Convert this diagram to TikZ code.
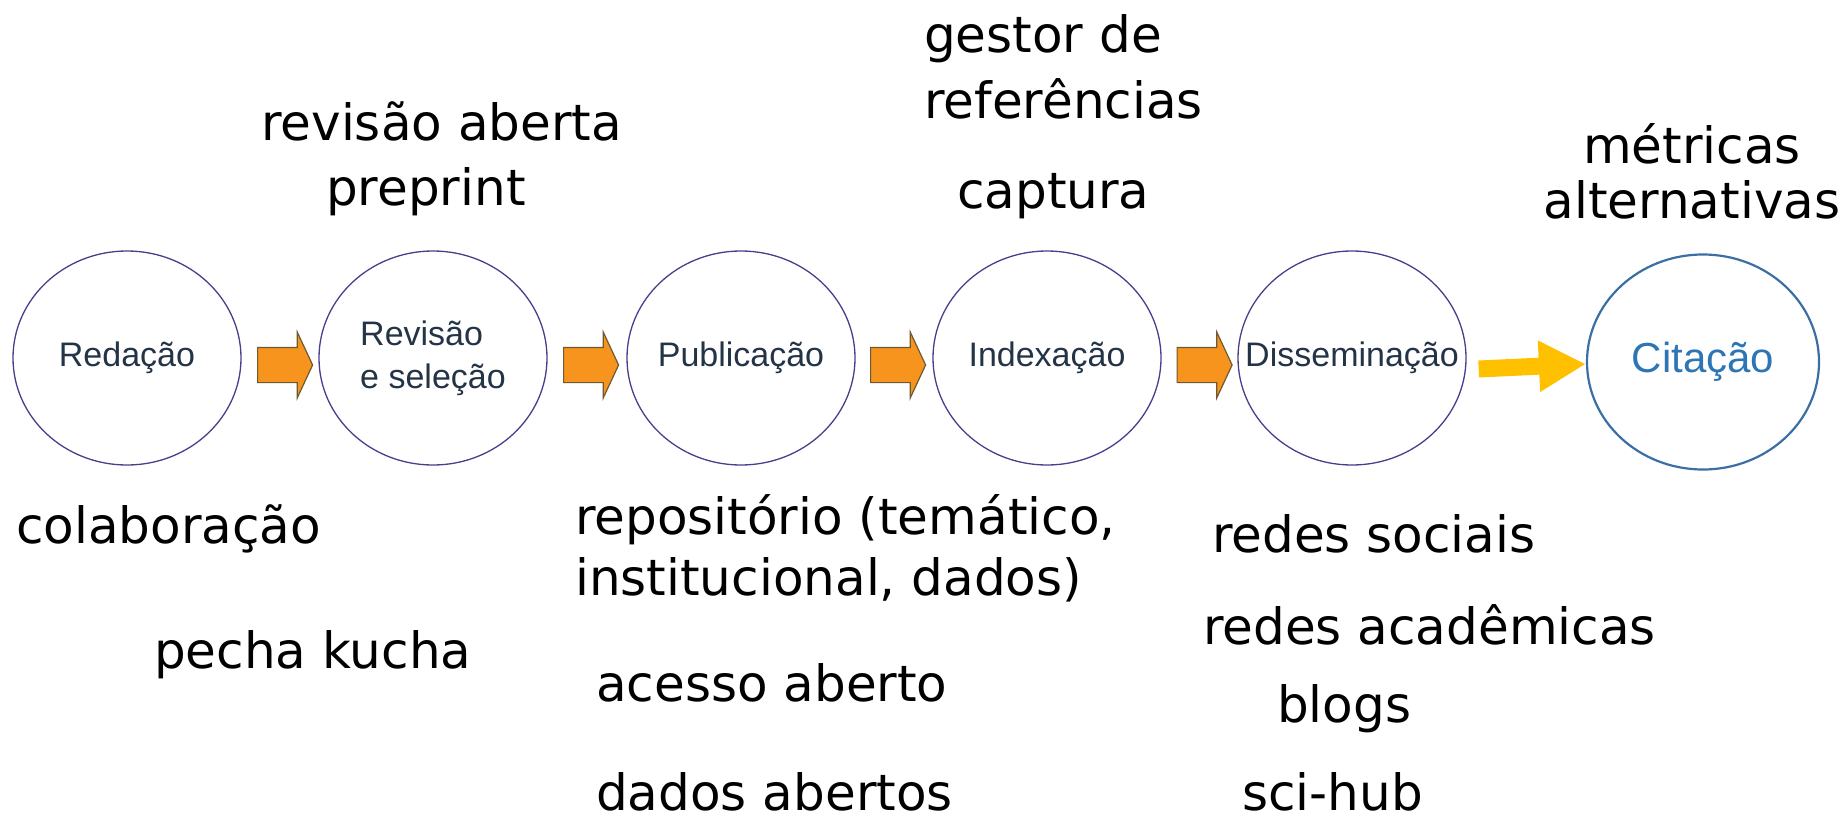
\documentclass[tikz,border=0pt]{standalone}
\usepackage{fontspec}
\setmainfont{Liberation Sans}
\newfontfamily\handfont{DejaVu Sans}
\usetikzlibrary{shapes.geometric,shapes.arrows,arrows.meta,calc}
\definecolor{ringcol}{RGB}{72,62,140}
\definecolor{stagetext}{RGB}{36,52,71}
\definecolor{citeblue}{RGB}{46,117,182}
\definecolor{citering}{RGB}{58,110,165}
\definecolor{orangefill}{RGB}{247,148,29}
\definecolor{orangeline}{RGB}{110,90,50}
\definecolor{yellowarr}{RGB}{255,192,0}
\begin{document}
\begin{tikzpicture}[x=1bp,y=-1bp,
  stage/.style={ellipse, draw=ringcol, line width=1.3bp, minimum width=228bp,
    minimum height=214bp, inner sep=-40bp, font=\fontsize{34bp}{43bp}\selectfont,
    text=stagetext, align=left},
  blockarrow/.style={single arrow, draw=orangeline, fill=orangefill, line width=1.2bp,
    minimum height=55bp, single arrow head extend=15.5bp, single arrow tip angle=130,
    inner xsep=0pt, inner ysep=17bp},
  note/.style={anchor=base west, inner sep=0pt,
    font=\handfont\fontsize{50bp}{60bp}\selectfont, text=black}]
\useasboundingbox (0,0) rectangle (1841,819);

% stages
\node[stage] (c1) at (127,358) {Redação};
\node[stage] (c2) at (433,358) {Revisão\\e seleção};
\node[stage] (c3) at (741,358) {Publicação};
\node[stage] (c4) at (1047,358) {Indexação};
\node[stage] (c5) at (1352,358) {Disseminação};
\node[stage, draw=citering, line width=2.2bp, text=citeblue, minimum width=232bp,
  minimum height=215bp, font=\fontsize{42bp}{50bp}\selectfont] (c6) at (1703,362) {Citação};

% block arrows
\node[blockarrow] (a12) at ($(c1.east)!0.5!(c2.west)+(1,7)$) {};
\node[blockarrow] (a23) at ($(c2.east)!0.5!(c3.west)+(0,7)$) {};
\node[blockarrow] (a34) at ($(c3.east)!0.5!(c4.west)+(0,7)$) {};
\node[blockarrow] (a45) at ($(c4.east)!0.5!(c5.west)+(1,7)$) {};
\draw[yellowarr, line width=17bp, -{Triangle[length=47bp,width=48bp]}]
  ($(c5.east)+(12,11)$) -- ($(c6.west)+(0,2)$);

% notes
\node[note] (t1) at (924,53) {gestor de};
\node[note] (t2) at (924,118) {referências};
\node[note] (t3) at (261,140) {revisão aberta};
\node[note] (t4) at (326,205) {preprint};
\node[note] (t5) at (957,208) {captura};
\node[note, anchor=base] (t6) at (1692,163) {métricas};
\node[note, anchor=base] (t7) at (1692,218) {alternativas};
\node[note] (t8) at (16,543) {colaboração};
\node[note] (t9) at (154,668) {pecha kucha};
\node[note] (t10) at (575,534) {repositório (temático,};
\node[note] (t11) at (575,595) {institucional, dados)};
\node[note] (t12) at (596,701) {acesso aberto};
\node[note] (t13) at (596,810) {dados abertos};
\node[note] (t14) at (1212,552) {redes sociais};
\node[note] (t15) at (1203,644) {redes acadêmicas};
\node[note] (t16) at (1277,722) {blogs};
\node[note] (t17) at (1242,810) {sci-hub};
\end{tikzpicture}
\end{document}
